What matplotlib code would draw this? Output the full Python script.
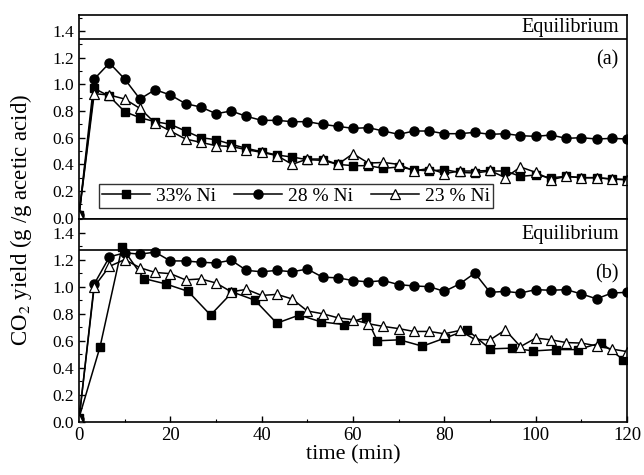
import matplotlib
matplotlib.use("Agg")
import matplotlib.pyplot as plt
from matplotlib.ticker import MultipleLocator

plt.rcParams['font.family'] = ['Liberation Serif', 'DejaVu Serif']
plt.rcParams['mathtext.fontset'] = 'stix'

# panel (a): sampled every 10/3 min
t_a = [k * 10 / 3 for k in range(37)]
ni33_a = [0.02, 0.97, 0.91, 0.795, 0.75, 0.72, 0.70, 0.65, 0.60, 0.585,
          0.55, 0.52, 0.495, 0.47, 0.455, 0.435, 0.43, 0.40, 0.39, 0.39,
          0.37, 0.38, 0.36, 0.35, 0.36, 0.34, 0.335, 0.35, 0.35, 0.31,
          0.32, 0.30, 0.31, 0.30, 0.30, 0.29, 0.285]
ni28_a = [0.02, 1.04, 1.16, 1.04, 0.89, 0.96, 0.92, 0.855, 0.83, 0.78,
          0.80, 0.76, 0.73, 0.73, 0.72, 0.72, 0.70, 0.685, 0.67, 0.675,
          0.65, 0.625, 0.65, 0.65, 0.63, 0.63, 0.64, 0.625, 0.63, 0.615,
          0.61, 0.62, 0.595, 0.60, 0.59, 0.595, 0.59]
ni23_a = [0.02, 0.93, 0.92, 0.89, 0.82, 0.71, 0.65, 0.59, 0.565, 0.54,
          0.534, 0.51, 0.49, 0.466, 0.40, 0.44, 0.44, 0.40, 0.48, 0.41,
          0.414, 0.40, 0.35, 0.37, 0.33, 0.35, 0.35, 0.354, 0.30, 0.38,
          0.34, 0.285, 0.31, 0.30, 0.30, 0.29, 0.285]

# panel (b)
t_b = [k * 10 / 3 for k in range(37)]
ni28_b = [0.02, 1.02, 1.22, 1.25, 1.24, 1.255, 1.19, 1.19, 1.18, 1.175,
          1.195, 1.12, 1.11, 1.12, 1.11, 1.13, 1.07, 1.065, 1.045, 1.035,
          1.045, 1.015, 1.005, 1.0, 0.965, 1.02, 1.10, 0.958, 0.965, 0.953,
          0.978, 0.973, 0.978, 0.946, 0.91, 0.953, 0.958]
ni23_b = [0.02, 1.0, 1.15, 1.20, 1.14, 1.105, 1.096, 1.05, 1.057, 1.027,
          0.962, 0.98, 0.935, 0.943, 0.909, 0.82, 0.80, 0.77, 0.756, 0.726,
          0.706, 0.69, 0.669, 0.669, 0.652, 0.676, 0.61, 0.607, 0.68, 0.557,
          0.62, 0.607, 0.587, 0.583, 0.563, 0.539, 0.52]
t_b33 = [0, 4.6, 9.4, 14.2, 19.0, 23.9, 28.8, 33.6, 38.5, 43.3, 48.2, 53.0,
         58.0, 62.9, 65.3, 70.2, 75.2, 80.1, 85.0, 90.0, 94.9, 99.5, 104.5,
         109.2, 114.3, 119.2]
ni33_b = [0.03, 0.555, 1.29, 1.06, 1.02, 0.965, 0.79, 0.96, 0.90, 0.73,
          0.79, 0.74, 0.72, 0.775, 0.60, 0.607, 0.56, 0.62, 0.68, 0.54,
          0.546, 0.525, 0.535, 0.535, 0.585, 0.46]

labels = ['33% Ni', '28 % Ni', '23 % Ni']
equil_a = 1.34
equil_b = 1.27

fig = plt.figure(figsize=(6.44, 4.75), dpi=100)
ax1 = fig.add_axes([0.1227, 0.5389, 0.851, 0.4295])
ax2 = fig.add_axes([0.1227, 0.1116, 0.851, 0.4274])

sq = dict(marker='s', color='black', mfc='black', ms=5.5, lw=1.1)
ci = dict(marker='o', color='black', mfc='black', ms=6.5, lw=1.1)
tr = dict(marker='^', color='black', mfc='white', ms=7, lw=1.1, mew=0.9)

h1, = ax1.plot(t_a, ni33_a, label=labels[0], **sq)
h2, = ax1.plot(t_a, ni28_a, label=labels[1], **ci)
h3, = ax1.plot(t_a, ni23_a, label=labels[2], **tr)

ax2.plot(t_b33, ni33_b, **sq)
ax2.plot(t_b, ni28_b, **ci)
ax2.plot(t_b, ni23_b, **tr)

for ax, eq, top, tag, tag_y in [(ax1, equil_a, 1.52, '(a)', 0.78),
                                (ax2, equil_b, 1.5, '(b)', 0.73)]:
    ax.axhline(eq, color='black', lw=1.2)
    ax.text(0.985, (eq + top) / 2, 'Equilibrium', transform=ax.get_yaxis_transform(),
            ha='right', va='center', fontsize=14.5)
    ax.text(0.985, tag_y, tag, transform=ax.transAxes,
            ha='right', va='center', fontsize=14.5)
    ax.set_xlim(0, 120)
    ax.set_ylim(0 if ax is ax2 else -0.01, top)
    ax.xaxis.set_major_locator(MultipleLocator(20))
    ax.xaxis.set_minor_locator(MultipleLocator(10))
    ax.yaxis.set_minor_locator(MultipleLocator(0.1))
    ax.set_yticks([0.0, 0.2, 0.4, 0.6, 0.8, 1.0, 1.2, 1.4])
    ax.set_yticklabels(['0.0', '0.2', '0.4', '0.6', '0.8', '1.0', '1.2', '1.4'])
    ax.tick_params(which='both', direction='in', top=False, right=False, labelsize=12.5)
    ax.tick_params(which='major', length=4, width=1)
    ax.tick_params(which='minor', length=2.5, width=0.8)
    for s in ax.spines.values():
        s.set_linewidth(1.2)

ax1.tick_params(axis='x', which='both', labelbottom=False, length=0)
ax2.tick_params(axis='x', labelsize=13.5)

leg = ax1.legend(handles=[h1, h2, h3], ncol=3, loc='lower left',
                 bbox_to_anchor=(0.036, 0.055), frameon=True, fancybox=False,
                 edgecolor='black', fontsize=14, handlelength=2.5,
                 handletextpad=0.3, columnspacing=0.9, borderpad=0.15,
                 numpoints=1, borderaxespad=0)
leg.get_frame().set_linewidth(1.0)

ax2.set_xlabel('time (min)', fontsize=16, labelpad=1)
fig.text(0.033, 0.537, 'CO$_2$ yield (g /g acetic acid)', rotation=90,
         ha='center', va='center', fontsize=16.5)

fig.savefig('out.png', dpi=100)
